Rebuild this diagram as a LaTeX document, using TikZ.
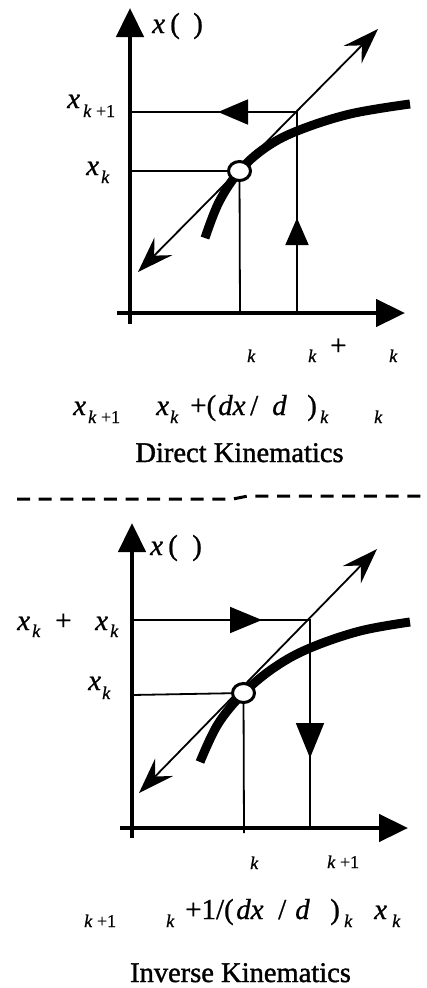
\documentclass[tikz,border=0pt]{standalone}
\usepackage{fontspec}
\setmainfont{Liberation Serif}[FakeBold=0.8]
\newfontfamily\titlefont{Liberation Serif}[FakeBold=1.3]
\usetikzlibrary{arrows.meta}
\begin{document}
\begin{tikzpicture}[x=1pt,y=-1pt,
  thinline/.style={line width=1.8pt},
  axisline/.style={line width=4.6pt,-{Triangle[length=29pt,width=27pt]}},
  curveline/.style={line width=9pt},
  tangent/.style={line width=1.8pt,{Stealth[length=36pt,width=25pt,inset=13pt]}-{Stealth[length=36pt,width=25pt,inset=13pt]}},
  ptcircle/.style={line width=3pt,fill=white},
  lbl/.style={inner sep=0pt,anchor=base west,font=\fontsize{29}{29}\selectfont\itshape},
  rmlbl/.style={inner sep=0pt,anchor=base west,font=\fontsize{29}{29}\selectfont},
  sublbl/.style={inner sep=0pt,anchor=base west,font=\fontsize{18}{18}\selectfont},
  title/.style={inner sep=0pt,anchor=base,font=\titlefont\fontsize{28.5}{28.5}\selectfont}
]
\useasboundingbox (0,0) rectangle (426,988);

% ================= TOP: Direct Kinematics =================
\coordinate (Ya) at (130,324);
\coordinate (Yb) at (130,8);
\coordinate (Xa) at (117,313);
\coordinate (Xb) at (405,313);
\coordinate (P1) at (239.5,171);
\coordinate (Q1) at (297,112);
\coordinate (Q1b) at (297,313);
\coordinate (P1b) at (240,313);
\coordinate (L1) at (130,112);
\coordinate (L2) at (130,171);
\coordinate (T1a) at (138,272);
\coordinate (T1b) at (378,29);

\draw[thinline] (L1) -- (Q1) -- (Q1b);
\draw[thinline,-{Triangle[length=30pt,width=25pt]}] (262,112) -- (218,112);
\draw[thinline,-{Triangle[length=27pt,width=23pt]}] (297,260) -- (297,218);
\draw[thinline] (L2) -- (P1) -- (P1b);
\draw[axisline] (Ya) -- (Yb);
\draw[axisline] (Xa) -- (Xb);
\draw[tangent] (T1a) -- (T1b);
\draw[curveline] plot[smooth,tension=0.6] coordinates {(205,238) (219,202) (239.5,171) (265,148) (297,131) (350,114) (410,104)};
\draw[ptcircle] (P1) ellipse [x radius=11pt,y radius=9.5pt];

\node[lbl] (ylab1) at (152,33) {x};
\node[rmlbl] (yp1a) at (170,33) {(};
\node[rmlbl] (yp1b) at (193,33) {)};
\node[lbl] (xk1a) at (67,108) {x};
\node[sublbl] (xk1b) at (83,117) {\textit{k} +1};
\node[lbl] (xk0a) at (86,175) {x};
\node[sublbl] (xk0b) at (101,183) {\textit{k}};

\node[sublbl] (th1) at (247,362) {\textit{k}};
\node[sublbl] (th2) at (308,362) {\textit{k}};
\node[rmlbl] (th3) at (330,355) {+};
\node[sublbl] (th4) at (389,362) {\textit{k}};

\node[lbl] (e1a) at (73,415) {x};
\node[sublbl] (e1b) at (88,423) {\textit{k} +1};
\node[lbl] (e1c) at (156,415) {x};
\node[sublbl] (e1d) at (170,423) {\textit{k}};
\node[rmlbl] (e1e) at (190,415) {+(};
\node[lbl] (e1f) at (218,415) {dx};
\node[rmlbl] (e1g) at (250,415) {/};
\node[lbl] (e1h) at (272,415) {d};
\node[rmlbl] (e1i) at (307,415) {)};
\node[sublbl] (e1j) at (320,423) {\textit{k}};
\node[sublbl] (e1k) at (374,423) {\textit{k}};

\node[title] (t1) at (239.5,462) {Direct Kinematics};

% ================= separator =================
\draw[line width=3pt,dash pattern=on 13pt off 8.7pt] (17,499) -- (233,499) -- (248,496) -- (426,496);

% ================= BOTTOM: Inverse Kinematics =================
\coordinate (Ya2) at (132,838);
\coordinate (Yb2) at (132,523);
\coordinate (Xa2) at (120,828);
\coordinate (Xb2) at (408,828);
\coordinate (P2) at (243.5,693);
\coordinate (Q2) at (310,620);
\coordinate (Q2b) at (310,828);
\coordinate (P2b) at (244,833);
\coordinate (M1) at (132,620);
\coordinate (M2) at (132,695);
\coordinate (T2a) at (139,793);
\coordinate (T2b) at (377,549);

\draw[thinline] (M1) -- (Q2) -- (Q2b);
\draw[thinline,-{Triangle[length=32pt,width=26pt]}] (215,620) -- (262,620);
\draw[thinline,-{Triangle[length=35pt,width=28pt]}] (310,700) -- (310,758);
\draw[thinline] (M2) -- (P2) -- (P2b);
\draw[axisline] (Ya2) -- (Yb2);
\draw[axisline] (Xa2) -- (Xb2);
\draw[tangent] (T2a) -- (T2b);
\draw[curveline] plot[smooth,tension=0.6] coordinates {(200,762) (218,724) (243.5,693) (275,667) (310,648) (360,631) (410,622)};
\draw[ptcircle] (P2) ellipse [x radius=11pt,y radius=9.5pt];

\node[lbl] (ylab2) at (150,555) {x};
\node[rmlbl] (yp2a) at (168,555) {(};
\node[rmlbl] (yp2b) at (192,555) {)};
\node[lbl] (d1a) at (17,630) {x};
\node[sublbl] (d1b) at (32,637) {\textit{k}};
\node[rmlbl] (d1c) at (55,630) {+};
\node[lbl] (d1d) at (95,630) {x};
\node[sublbl] (d1e) at (110,637) {\textit{k}};
\node[lbl] (d2a) at (88,690) {x};
\node[sublbl] (d2b) at (102,699) {\textit{k}};

\node[sublbl] (s1) at (250,869) {\textit{k}};
\node[sublbl] (s2) at (327,868) {\textit{k} +1};

\node[sublbl] (f1a) at (84,927) {\textit{k} +1};
\node[sublbl] (f1b) at (166,927) {\textit{k}};
\node[rmlbl] (f1c) at (185,919) {+1/(};
\node[lbl] (f1d) at (236,919) {dx};
\node[rmlbl] (f1e) at (278,919) {/};
\node[lbl] (f1f) at (295,919) {d};
\node[rmlbl] (f1g) at (330,919) {)};
\node[sublbl] (f1h) at (344,927) {\textit{k}};
\node[lbl] (f1i) at (374,919) {x};
\node[sublbl] (f1j) at (392,927) {\textit{k}};

\node[title] (t2) at (240.5,982) {Inverse Kinematics};
\end{tikzpicture}
\end{document}
